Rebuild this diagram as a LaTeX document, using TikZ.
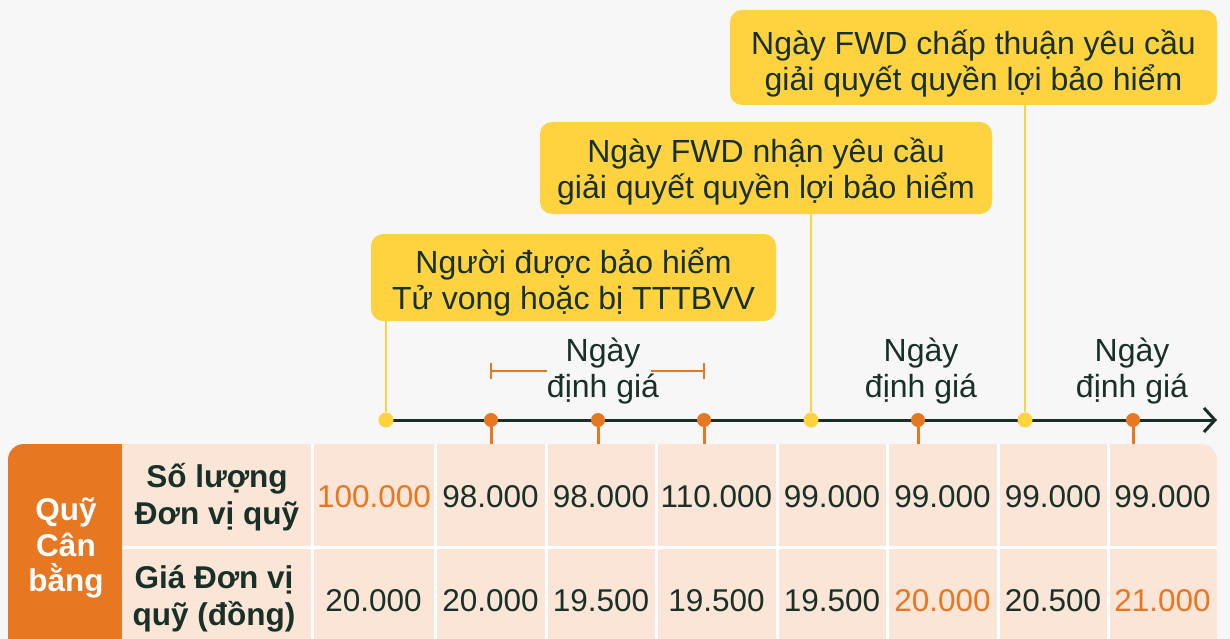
\documentclass[tikz,border=0pt]{standalone}
\usepackage{fontspec}
\setmainfont{Liberation Sans}
\usetikzlibrary{arrows.meta}
\definecolor{bgc}{HTML}{F7F7F7}
\definecolor{ylw}{HTML}{FFD33F}
\definecolor{org}{HTML}{E87722}
\definecolor{drk}{HTML}{183028}
\definecolor{pch}{HTML}{FBE5D7}
\begin{document}
\begin{tikzpicture}[x=1pt,y=-1pt,
  font=\fontsize{32}{36}\selectfont,
  callout/.style={fill=ylw, rounded corners=12pt, text=drk, align=center, inner sep=0pt},
  ydot/.style={circle, fill=ylw, minimum size=15pt, inner sep=0pt},
  odot/.style={circle, fill=org, minimum size=14pt, inner sep=0pt},
  ylink/.style={ylw, line width=2.5pt},
  otick/.style={org, line width=3pt},
  lbl/.style={text=drk, align=center, inner sep=0pt},
  val/.style={text=drk, inner sep=0pt, font=\fontsize{31.5}{36}\selectfont},
  oval/.style={val, text=org},
  hdr/.style={text=drk, align=center, inner sep=0pt, font=\fontsize{31.5}{37.5}\selectfont\bfseries},
  sep/.style={white, line width=3pt}]
\useasboundingbox (0,0) rectangle (1230,639);
\clip (0,0) rectangle (1230,639);
\fill[bgc] (0,0) rectangle (1230,639);

% table background
\fill[pch, rounded corners=16pt] (8,444) rectangle (1217,690);
\fill[org, rounded corners=16pt] (8,444) rectangle (140,690);
\fill[pch] (122,444) rectangle (141,690);
\foreach \xx in {312,435,546,656,777,887,998,1108}
  \draw[sep] (\xx,444) -- (\xx,690);
\draw[sep] (122,547) -- (1217,547);

% table text
\node[hdr, text=white, font=\fontsize{31.5}{35.5}\selectfont\bfseries] (qcb) at (66,548) {Quỹ\\Cân\\bằng};
\node[hdr] (hsl) at (217,497) {Số lượng\\Đơn vị quỹ};
\node[hdr] (hgia) at (214,599) {Giá Đơn vị\\quỹ (đồng)};

\node[oval] (a1) at (374,497) {100.000};
\node[val] (a2) at (490.5,497) {98.000};
\node[val] (a3) at (601,497) {98.000};
\node[val] (a4) at (716.5,497) {110.000};
\node[val] (a5) at (832,497) {99.000};
\node[val] (a6) at (942.5,497) {99.000};
\node[val] (a7) at (1053,497) {99.000};
\node[val] (a8) at (1162.5,497) {99.000};

\node[val] (b1) at (373.5,601) {20.000};
\node[val] (b2) at (490.5,601) {20.000};
\node[val] (b3) at (601,601) {19.500};
\node[val] (b4) at (716.5,601) {19.500};
\node[val] (b5) at (832,601) {19.500};
\node[oval] (b6) at (942.5,601) {20.000};
\node[val] (b7) at (1053,601) {20.500};
\node[oval] (b8) at (1162.5,601) {21.000};

% timeline axis
\coordinate (axs) at (386,420);
\coordinate (axe) at (1217,420);
\draw[drk, line width=3pt, -{Straight Barb[length=11pt,width=24pt,line width=3pt]}] (axs) -- (axe);

% dots
\node[ydot] (y1) at (386,420) {};
\node[odot] (o1) at (491,420) {};
\node[odot] (o2) at (598,420) {};
\node[odot] (o3) at (704,420) {};
\node[ydot] (y2) at (811,420) {};
\node[odot] (o4) at (918,420) {};
\node[ydot] (y3) at (1025,420) {};
\node[odot] (o5) at (1133,420) {};

% orange ticks to table
\foreach \d in {o1,o2,o3,o4,o5} {
  \coordinate (t\d) at (\d |- 0,444);
  \draw[otick] (\d.south) -- (t\d);
}

% callouts
\node[callout, minimum width=405pt, minimum height=87pt] (c1) at (573.5,277.5)
  {\rule{0pt}{34pt}Người được bảo hiểm\\Tử vong hoặc bị TTTBVV};
\node[callout, minimum width=452pt, minimum height=92pt] (c2) at (766,168)
  {\rule{0pt}{32pt}Ngày FWD nhận yêu cầu\\giải quyết quyền lợi bảo hiểm};
\node[callout, minimum width=487pt, minimum height=95pt] (c3) at (973.5,57.5)
  {\rule{0pt}{36pt}Ngày FWD chấp thuận yêu cầu\\giải quyết quyền lợi bảo hiểm};

\draw[ylink] (c1.south -| y1) -- (y1.north);
\draw[ylink] (c2.south -| y2) -- (y2.north);
\draw[ylink] (c3.south -| y3) -- (y3.north);

% valuation labels
\node[lbl] (n1) at (603,371) {Ngày\\định giá};
\node[lbl] (n2) at (921,371) {Ngày\\định giá};
\node[lbl] (n3) at (1132,371) {Ngày\\định giá};

% bracket
\draw[org, line width=2pt] (491,363) -- (491,379) (491,371) -- (547,371);
\draw[org, line width=2pt] (704,363) -- (704,379) (704,371) -- (651,371);
\end{tikzpicture}
\end{document}
